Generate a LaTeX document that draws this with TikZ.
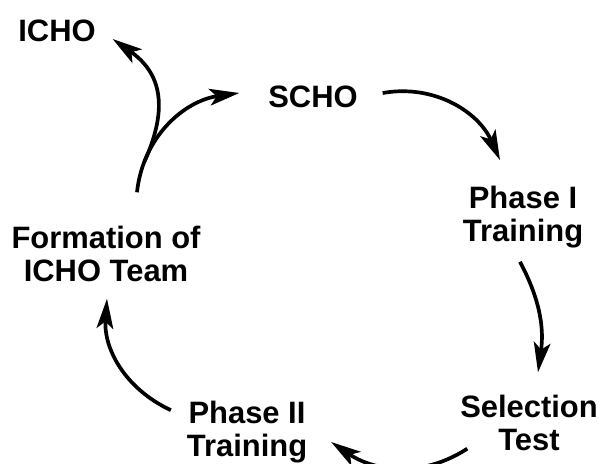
\documentclass[tikz,border=0pt]{standalone}
\usepackage{fontspec}
\setmainfont{Liberation Sans}
\usetikzlibrary{arrows.meta, calc, positioning}

\begin{document}
\begin{tikzpicture}[% styles used in image code
         x = 0.02cm, y = 0.02cm,
         > = {Stealth[length=17pt, width=9.5pt, inset=4pt]},
stage/.style = {font=\fontsize{17.6pt}{18.6pt}\selectfont\bfseries,
              align=center, inner sep=0pt, outer sep=0pt},
flow/.style = {->, line width=2.1pt}
                    ]
	% frame of the picture
	\clip (0,0) rectangle (603,464);

	% stages of the cycle
	\node[stage] (icho) at (57,433)  {ICHO};
	\node[stage] (scho) at (313,367) {SCHO};
	\node[stage] (ph1)  at (523,247) {Phase I\\Training};
	\node[stage] (sel)  at (529,41)  {Selection\\Test};
	\node[stage] (ph2)  at (247,32)  {Phase II\\Training};
	\node[stage] (form) at (106,210) {Formation of\\ICHO Team};

	% arrows round the cycle
	\draw[flow] ($(scho.east)+(25,4)$) to[out=10, in=114]
		($(ph1.north)+(-23,26)$);
	\draw[flow] ($(ph1.south)+(-3,-14)$) to[out=-62, in=82]
		($(sel.north)+(9,23)$);
	\draw[flow] ($(sel.south west)+(7,2)$) to[out=213, in=-34]
		($(ph2.east)+(24,-10)$);
	\draw[flow] ($(ph2.north west)+(-16,-9)$) to[out=155, in=-94]
		($(form.south)+(1,-17)$);
	\draw[flow] ($(form.north)+(31,34)$) to[out=84, in=188]
		coordinate[pos=0.2] (fork) ($(scho.west)+(-29,4)$);

	% branch to ICHO
	\draw[flow] (fork) to[out=66, in=-35, looseness=1.2]
		($(icho.east)+(17,-8)$);
\end{tikzpicture}
\end{document}
